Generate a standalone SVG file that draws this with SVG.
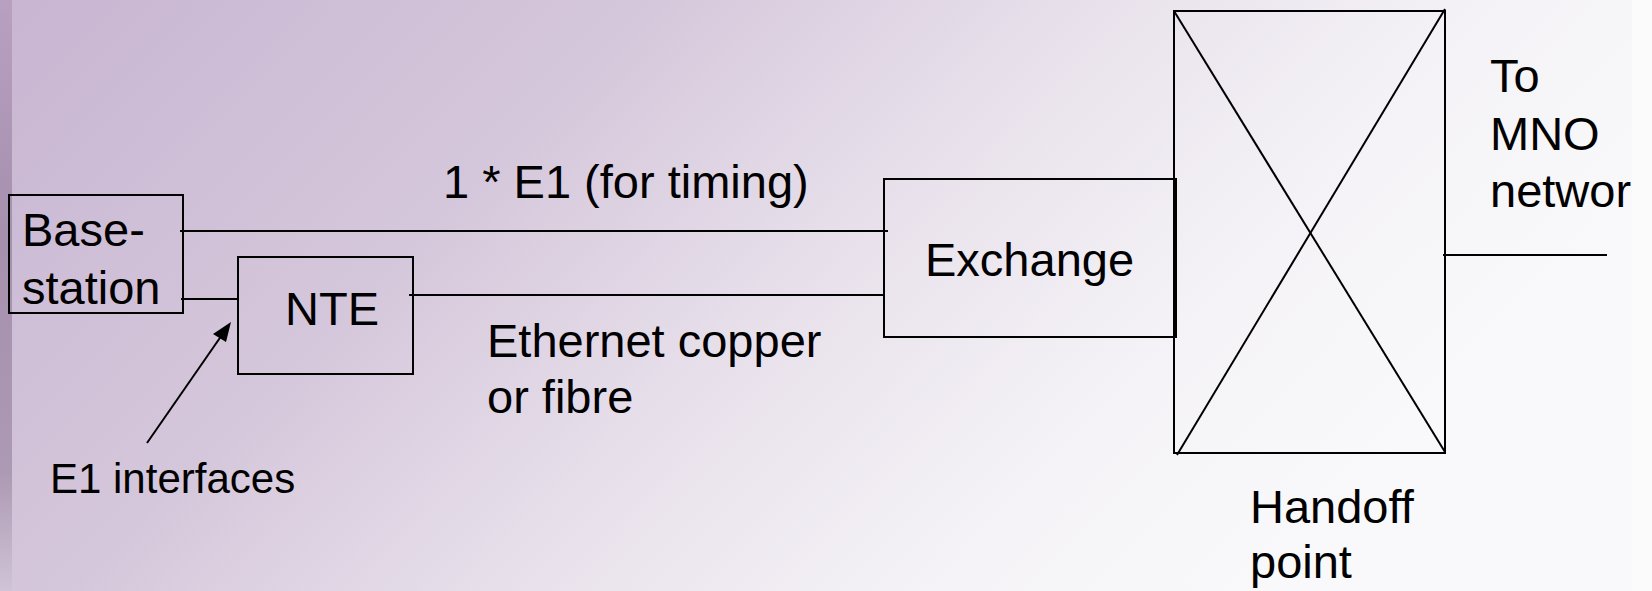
<svg xmlns="http://www.w3.org/2000/svg" width="1652" height="591" viewBox="0 0 1652 591">
<style>
  .box{fill:none;stroke:#000;stroke-width:2}
  .ln{fill:none;stroke:#000;stroke-width:2}
  .t{font-family:"Liberation Sans",Arial,sans-serif;font-size:47px;fill:#000}
  .s{font-family:"Liberation Sans",Arial,sans-serif;font-size:42px;fill:#000}
</style>
<defs>
  <linearGradient id="bg" x1="0" y1="0" x2="1" y2="0.35">
    <stop offset="0" stop-color="#c8b5d2"/>
    <stop offset="0.35" stop-color="#d5c7db"/>
    <stop offset="0.6" stop-color="#e9e2ec"/>
    <stop offset="0.8" stop-color="#f4f2f6"/>
    <stop offset="1" stop-color="#f9f9fb"/>
  </linearGradient>
  <linearGradient id="strip" x1="0" y1="0" x2="0" y2="1">
    <stop offset="0" stop-color="#b49cbd"/>
    <stop offset="0.4" stop-color="#9f88a7"/>
    <stop offset="0.8" stop-color="#a692ad"/>
    <stop offset="1" stop-color="#cfc3d5"/>
  </linearGradient>
</defs>
<rect x="0" y="0" width="1652" height="591" fill="url(#bg)"/>
<rect x="0" y="0" width="12" height="591" fill="url(#strip)" opacity="0.85"/>
<rect x="1632" y="0" width="20" height="591" fill="#fbfbfc"/>

<g id="connectors">
  <line class="ln" x1="180" y1="231" x2="888" y2="231"/>
  <line class="ln" x1="181" y1="299" x2="238" y2="299"/>
  <line class="ln" x1="409" y1="295" x2="883" y2="295"/>
  <line class="ln" x1="1443" y1="255" x2="1607" y2="255"/>
  <line class="ln" x1="147" y1="443" x2="224" y2="332"/>
  <path d="M231,322 L213,334 L226,342 z" fill="#000"/>
</g>

<g id="basestation">
  <rect class="box" x="9" y="195" width="174" height="118"/>
  <text class="t" x="22" y="246">Base-</text>
  <text class="t" x="22" y="304">station</text>
</g>

<g id="nte">
  <rect class="box" x="238" y="257" width="175" height="117"/>
  <text class="t" x="285" y="325">NTE</text>
</g>

<g id="exchange">
  <rect class="box" x="884" y="179" width="292" height="158"/>
  <text class="t" x="925" y="276">Exchange</text>
</g>

<g id="handoff">
  <rect class="box" x="1174" y="11" width="271" height="442"/>
  <line class="ln" x1="1174" y1="11" x2="1445" y2="452"/>
  <line class="ln" x1="1177" y1="455" x2="1445" y2="9"/>
  <text class="t" x="1250" y="523">Handoff</text>
  <text class="t" x="1250" y="578">point</text>
</g>

<g id="labels">
  <text class="t" x="443" y="198">1 * E1 (for timing)</text>
  <text class="t" x="487" y="357">Ethernet copper</text>
  <text class="t" x="487" y="413">or fibre</text>
  <text class="s" x="50" y="493">E1 interfaces</text>
  <text class="t" x="1490" y="92">To</text>
  <text class="t" x="1490" y="150">MNO</text>
  <text class="t" x="1490" y="207">networ</text>
</g>
</svg>
